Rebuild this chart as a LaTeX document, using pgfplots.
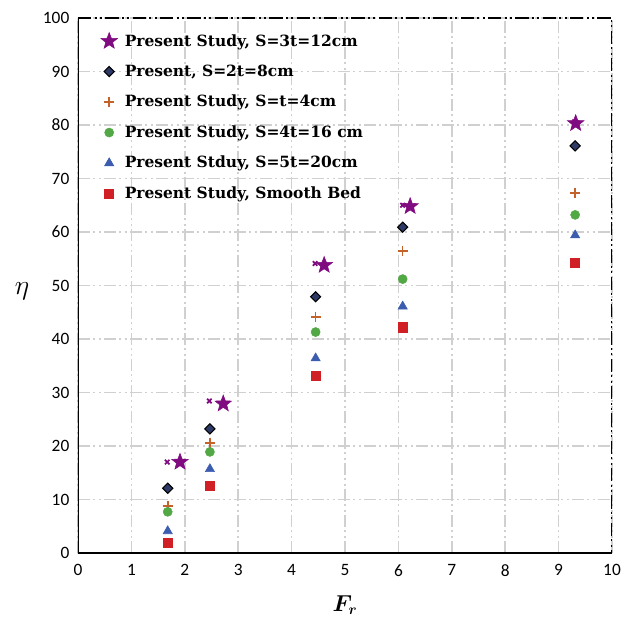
\documentclass[border=0pt]{standalone}
\usepackage{pgfplots}
\pgfplotsset{compat=1.18}
\usepackage{bm}
\usepackage{fontspec}
\setmainfont{Carlito}
\newfontfamily\legfont{DejaVu Serif}

\definecolor{cStar}{HTML}{800A80}
\definecolor{cDia}{HTML}{2E3A66}
\definecolor{cPlus}{HTML}{C4622B}
\definecolor{cCirc}{HTML}{52A844}
\definecolor{cTri}{HTML}{3C5DAF}
\definecolor{cSq}{HTML}{D11F26}
\definecolor{cGrid}{HTML}{D0D0D0}

% filled five-pointed star
\pgfdeclareplotmark{fstar}{%
  \pgfpathmoveto{\pgfpointpolar{90}{\pgfplotmarksize}}%
  \pgfpathlineto{\pgfpointpolar{126}{0.42\pgfplotmarksize}}%
  \pgfpathlineto{\pgfpointpolar{162}{\pgfplotmarksize}}%
  \pgfpathlineto{\pgfpointpolar{198}{0.42\pgfplotmarksize}}%
  \pgfpathlineto{\pgfpointpolar{234}{\pgfplotmarksize}}%
  \pgfpathlineto{\pgfpointpolar{270}{0.42\pgfplotmarksize}}%
  \pgfpathlineto{\pgfpointpolar{306}{\pgfplotmarksize}}%
  \pgfpathlineto{\pgfpointpolar{342}{0.42\pgfplotmarksize}}%
  \pgfpathlineto{\pgfpointpolar{18}{\pgfplotmarksize}}%
  \pgfpathlineto{\pgfpointpolar{54}{0.42\pgfplotmarksize}}%
  \pgfpathclose
  \pgfusepathqfillstroke
}

\begin{document}
\begin{tikzpicture}
\useasboundingbox (-58.5pt,-49.5pt) rectangle (409.5pt,414.75pt);
\begin{axis}[
  at={(0pt,0pt)}, anchor=south west,
  scale only axis, width=400.5pt, height=401.25pt,
  xmin=0, xmax=10, ymin=0, ymax=100,
  xtick={0,1,...,10}, ytick={0,10,...,100},
  axis line style={draw=none},
  major tick length=0pt,
  grid=major,
  major grid style={draw=cGrid, line width=1.2pt,
    dash pattern=on 9pt off 2.5pt on 1.5pt off 2.5pt on 1.5pt off 2.5pt},
  /pgf/number format/assume math mode=true,
  tick label style={font=\fontsize{13}{15}\selectfont},
  yticklabel style={xshift=-3pt},
  xticklabel style={yshift=-5pt},
  every axis x label/.style={at={(rel axis cs:0.5,0)}, anchor=center, yshift=-39pt},
  every axis y label/.style={at={(rel axis cs:0,0.49)}, anchor=center, xshift=-42pt},
  xlabel={\fontsize{16}{18}\selectfont$\bm{F_r}$},
  ylabel={\fontsize{20}{22}\selectfont$\eta$},
  legend style={at={(rel axis cs:0.035,0.98)}, anchor=north west, draw=none, fill=none,
    font=\legfont\bfseries\fontsize{11.6}{13.5}\selectfont, row sep=8.6pt, column sep=3.5pt},
  legend cell align=left,
]
\addplot[only marks, mark=fstar, mark size=6.5pt, draw=cStar, fill=cStar]
  coordinates {(1.91,17.0) (2.72,27.9) (4.61,53.8) (6.22,64.8) (9.32,80.3)};
\addlegendentry{Present Study, S=3t=12cm}
\addplot[only marks, mark=square*, mark size=2.7pt, mark options={rotate=45}, draw=black, fill=cDia, line width=0.8pt]
  coordinates {(1.68,12.1) (2.47,23.2) (4.45,47.9) (6.08,60.9) (9.31,76.1)};
\addlegendentry{Present, S=2t=8cm}
\addplot[only marks, mark=+, mark size=3.8pt, draw=cPlus, line width=1.2pt]
  coordinates {(1.68,8.8) (2.47,20.6) (4.45,44.1) (6.08,56.5) (9.31,67.3)};
\addlegendentry{Present Study, S=t=4cm}
\addplot[only marks, mark=*, mark size=3.4pt, draw=cCirc, fill=cCirc]
  coordinates {(1.68,7.7) (2.47,18.9) (4.45,41.3) (6.08,51.2) (9.31,63.2)};
\addlegendentry{Present Study, S=4t=16 cm}
\addplot[only marks, mark=triangle*, mark size=4pt, draw=cTri, fill=cTri]
  coordinates {(1.68,4.1) (2.47,15.7) (4.45,36.4) (6.08,46.1) (9.31,59.4)};
\addlegendentry{Present Stduy, S=5t=20cm}
\addplot[only marks, mark=square*, mark size=3.4pt, draw=cSq, fill=cSq]
  coordinates {(1.68,1.9) (2.47,12.5) (4.45,33.1) (6.08,42.2) (9.31,54.2)};
\addlegendentry{Present Study, Smooth Bed}
% small companion marks of the S=3t series
\addplot[only marks, forget plot, mark=x, mark size=2.4pt, draw=cStar, line width=1.3pt]
  coordinates {(1.67,17.0) (2.46,28.4) (4.44,54.1) (6.08,65.0) (9.30,80.6)};
% frame: solid left and bottom, dash-dot-dot top and right
\draw[black, line width=1.4pt] (rel axis cs:0,1) -- (rel axis cs:0,0) -- (rel axis cs:1,0);
\draw[black, line width=1.4pt,
  dash pattern=on 10pt off 2.5pt on 1.5pt off 2.5pt on 1.5pt off 2.5pt]
  (rel axis cs:0,1) -- (rel axis cs:1,1) -- (rel axis cs:1,0);
\end{axis}
\end{tikzpicture}
\end{document}
